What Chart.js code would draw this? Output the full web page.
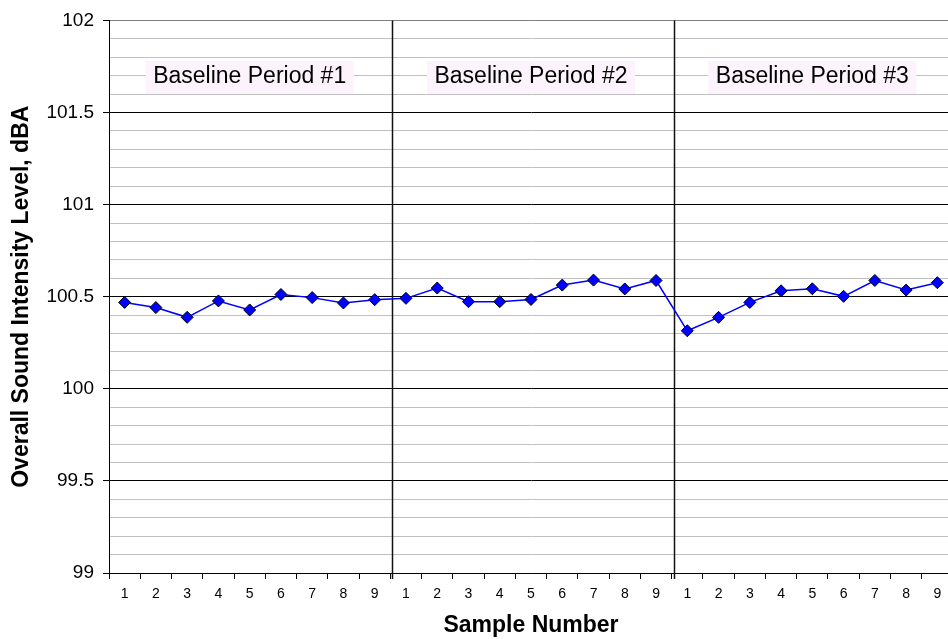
<!DOCTYPE html>
<html>
<head>
<meta charset="utf-8">
<script src="https://cdn.jsdelivr.net/npm/chart.js@4.4.0/dist/chart.umd.min.js"></script>
<style>
    html, body { margin: 0; padding: 0; background: #fff; overflow: hidden; }
    #wrap { width: 960px; height: 639px; }
</style>
</head>
<body>
<div id="wrap"><canvas id="grafico" width="960" height="639"></canvas></div>
<script>
const amostras = ['1', '2', '3', '4', '5', '6', '7', '8', '9']
const periodos = ['Baseline Period #1', 'Baseline Period #2', 'Baseline Period #3']
const periodo1 = [100.469, 100.441, 100.388, 100.477, 100.428, 100.512, 100.495, 100.466, 100.484]
const periodo2 = [100.491, 100.547, 100.473, 100.473, 100.485, 100.563, 100.590, 100.542, 100.588]
const periodo3 = [100.315, 100.388, 100.469, 100.532, 100.543, 100.502, 100.588, 100.536, 100.576]
const yMin = 99
const yMax = 102
const yPasso = 0.1

const fonte = '"Liberation Sans", Arial, sans-serif'

document.addEventListener('DOMContentLoaded', () => {
    const categorias = [...amostras, ...amostras, ...amostras]
    const valores = [...periodo1, ...periodo2, ...periodo3]

    function ehMaior(v) {
        return Math.abs(v * 2 - Math.round(v * 2)) < 1e-6
    }

    // linhas entre os periodos e caixas com o nome
    const divisoes = {
        id: 'divisoes',
        beforeDatasetsDraw(chart) {
            const { ctx, chartArea, scales: { x, y } } = chart
            ctx.save()
            for (let p = 1; p < periodos.length; p++) {
                const idx = p * amostras.length
                const px = Math.round((x.getPixelForValue(idx - 1) + x.getPixelForValue(idx)) / 2) + 2.5
                ctx.strokeStyle = '#111'
                ctx.lineWidth = 1.5
                ctx.beginPath()
                ctx.moveTo(px, chartArea.top)
                ctx.lineTo(px, chartArea.bottom + 6)
                ctx.stroke()
            }
            ctx.font = `23px ${fonte}`
            ctx.textAlign = 'center'
            ctx.textBaseline = 'middle'
            periodos.forEach((nome, p) => {
                const meio = p * amostras.length + Math.floor(amostras.length / 2)
                const cx = x.getPixelForValue(meio)
                const cy = y.getPixelForValue(101.69)
                const w = ctx.measureText(nome).width + 15
                const h = 33
                ctx.fillStyle = '#fdf3fd'
                ctx.fillRect(cx - w / 2, cy - h / 2, w, h)
                ctx.fillStyle = '#000'
                ctx.fillText(nome, cx, cy - 1)
            })
            ctx.restore()
        }
    }

    new Chart(document.getElementById('grafico'), {
        type: 'line',
        data: {
            labels: categorias,
            datasets: [{
                data: valores,
                borderColor: '#0000ff',
                borderWidth: 1.5,
                tension: 0,
                pointStyle: 'rectRot',
                pointRadius: 6,
                pointBackgroundColor: '#0000ff',
                pointBorderColor: '#000',
                pointBorderWidth: 1
            }]
        },
        options: {
            responsive: false,
            animation: false,
            events: [],
            layout: { padding: { top: 19, right: 4, bottom: 0, left: 0 } },
            plugins: {
                legend: { display: false },
                tooltip: { enabled: false }
            },
            scales: {
                x: {
                    offset: true,
                    afterFit(scale) { scale.height = 66 },
                    grid: { offset: true, drawOnChartArea: false, tickLength: 6, color: '#000' },
                    border: { color: '#000', width: 1 },
                    ticks: {
                        autoSkip: false,
                        maxRotation: 0,
                        padding: 7,
                        color: '#000',
                        font: { family: fonte, size: 14 }
                    },
                    title: {
                        display: true,
                        text: 'Sample Number',
                        color: '#000',
                        padding: { top: 0, bottom: 0 },
                        font: { family: fonte, size: 23, weight: 'bold' }
                    }
                },
                y: {
                    min: yMin,
                    max: yMax,
                    afterFit(scale) { scale.width = 109 },
                    grid: {
                        tickLength: 6,
                        color: (c) => {
                            const v = c.tick.value
                            if (Math.abs(v - yMax) < 1e-6) return '#808080'
                            return ehMaior(v) ? '#000' : '#c0c0c0'
                        },
                        tickColor: (c) => ehMaior(c.tick.value) ? '#000' : 'rgba(0,0,0,0)'
                    },
                    border: { color: '#000', width: 1 },
                    ticks: {
                        stepSize: yPasso,
                        autoSkip: false,
                        padding: 9,
                        color: '#000',
                        font: { family: fonte, size: 19 },
                        callback: (v) => ehMaior(v) ? String(Number(v.toFixed(1))) : ''
                    },
                    title: {
                        display: true,
                        text: 'Overall Sound Intensity Level, dBA',
                        color: '#000',
                        padding: { top: 8, bottom: 0 },
                        font: { family: fonte, size: 23, weight: 'bold' }
                    }
                }
            }
        },
        plugins: [divisoes]
    })
})
</script>
</body>
</html>
